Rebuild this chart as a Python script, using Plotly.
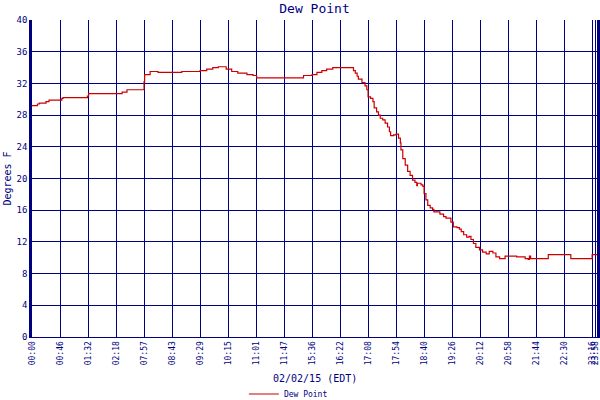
import plotly.graph_objects as go

# sample index (one reading per sample; axis is index based) and dew point values
sample_idx = [0, 9, 12, 23, 28, 49, 51, 91, 93, 148, 156, 184, 185, 194, 207, 246, 276, 287,
              297, 306, 319, 328, 338, 353, 363, 369, 446, 460, 468, 476, 484, 494, 528, 531,
              534, 536, 542, 547, 550, 552, 556, 560, 562, 566, 569, 572, 576, 580, 584, 587,
              589, 594, 598, 602, 605, 606, 609, 613, 617, 621, 625, 629, 632, 633, 639, 642,
              644, 647, 650, 654, 658, 660, 670, 676, 680, 688, 692, 698, 702, 705, 709, 714,
              718, 721, 725, 729, 735, 740, 746, 751, 757, 762, 768, 777, 796, 810, 815, 817,
              819, 848, 885, 920, 928]
dew_point = [29.2, 29.4, 29.5, 29.7, 29.9, 30.1, 30.2, 30.4, 30.7, 30.9, 31.2, 32.2, 33.1, 33.5,
             33.4, 33.5, 33.6, 33.8, 34.0, 34.1, 33.8, 33.5, 33.3, 33.1, 33.0, 32.7, 33.0, 33.1,
             33.4, 33.6, 33.8, 34.0, 33.6, 33.3, 32.9, 32.55, 32.1, 31.7, 31.2, 30.3, 30.1, 29.7,
             28.9, 28.4, 28.0, 27.6, 27.4, 27.0, 26.5, 25.9, 25.4, 25.5, 25.6, 25.1, 24.5, 23.6,
             22.5, 21.7, 20.9, 20.4, 19.8, 19.5, 19.1, 19.4, 19.2, 19.0, 18.1, 17.3, 16.6, 16.3,
             16.1, 15.8, 15.5, 15.2, 15.0, 14.5, 13.9, 13.8, 13.6, 13.3, 12.9, 12.6, 12.7, 12.3,
             11.8, 11.3, 11.0, 10.7, 10.5, 10.8, 10.6, 10.1, 9.9, 10.2, 10.1, 9.9, 9.8, 10.2,
             9.9, 10.4, 9.9, 10.4, 10.4]

tick_idx = [0, 46, 92, 138, 184, 230, 276, 322, 368, 414, 460, 506, 552, 598, 644, 690,
            736, 782, 828, 874, 920, 926]
tick_labels = ["00:00", "00:46", "01:32", "02:18", "07:57", "08:43", "09:29", "10:15",
               "11:01", "11:47", "15:36", "16:22", "17:08", "17:54", "18:40", "19:26",
               "20:12", "20:58", "21:44", "22:30", "23:16", "23:58"]
y_ticks = [0, 4, 8, 12, 16, 20, 24, 28, 32, 36, 40]

NAVY = "#000080"
FONT = "DejaVu Sans Mono"

fig = go.Figure()
fig.add_trace(go.Scatter(
    x=sample_idx, y=dew_point, mode="lines", name="Dew Point",
    line=dict(color="#cc0000", width=1.2, shape="hv"),
))

fig.update_layout(
    width=600, height=400,
    margin=dict(l=32, r=3, t=20, b=63, autoexpand=False),
    paper_bgcolor="white", plot_bgcolor="white",
    title=dict(text="Dew Point", x=0.5, xref="paper", xanchor="center",
               y=0.98, yref="container", yanchor="middle",
               font=dict(family=FONT, size=13, color=NAVY)),
    showlegend=True,
    legend=dict(orientation="h", x=0.375, xanchor="left",
                y=0.015, yref="container", yanchor="middle",
                font=dict(family=FONT, size=8, color=NAVY), bgcolor="rgba(0,0,0,0)",
                itemwidth=30),
    font=dict(family=FONT, color=NAVY),
    annotations=[dict(text="02/02/15 (EDT)", x=0.5, xref="paper", xanchor="center",
                      y=378, yref="paper", yanchor="middle", showarrow=False,
                      font=dict(family=FONT, size=10, color=NAVY))],
)
# place x-title annotation in pixel terms relative to plot area (top 20, bottom 337)
fig.layout.annotations[0].y = (337 - 378) / 317

fig.update_xaxes(
    range=[0, 928], tickmode="array", tickvals=tick_idx, ticktext=tick_labels,
    tickangle=-90, tickfont=dict(family=FONT, size=8, color=NAVY),
    ticklabeloverflow="allow",
    showgrid=True, gridcolor=NAVY, gridwidth=1,
    showline=True, linecolor=NAVY, linewidth=1, mirror=False,
    ticks="", zeroline=False, automargin=False,
)
fig.update_yaxes(
    range=[0, 40], tickmode="array", tickvals=y_ticks,
    tickfont=dict(family=FONT, size=9, color=NAVY),
    showgrid=True, gridcolor=NAVY, gridwidth=1,
    showline=True, linecolor=NAVY, linewidth=2.5, mirror=True,
    ticks="", zeroline=False, automargin=False,
    title=dict(text="Degrees F", font=dict(family=FONT, size=10, color=NAVY), standoff=4),
)

fig.write_html("out.html", config={"displayModeBar": False},
               post_script="document.body.style.margin='0';")
